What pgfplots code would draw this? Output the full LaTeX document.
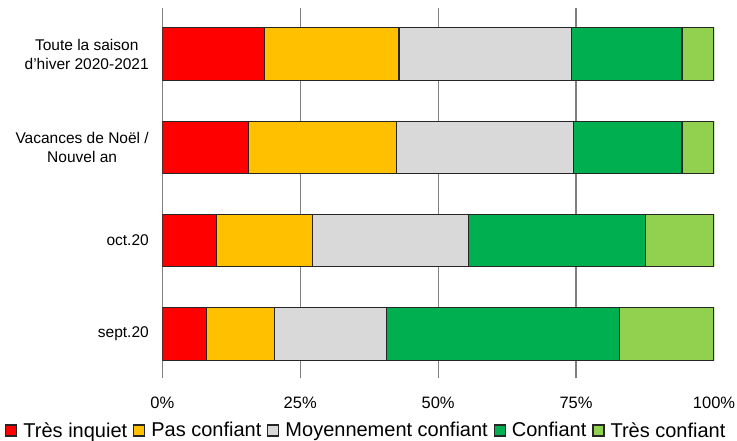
\documentclass[border=0pt]{standalone}
\usepackage{fontspec}
\setmainfont{Liberation Sans}
\usepackage{pgfplots}
\pgfplotsset{compat=1.18}

\definecolor{cRed}{HTML}{FF0000}
\definecolor{cYellow}{HTML}{FFC000}
\definecolor{cGrey}{HTML}{D9D9D9}
\definecolor{cGreen}{HTML}{00B050}
\definecolor{cLight}{HTML}{92D050}

\begin{document}
\begin{tikzpicture}
\path[use as bounding box] (0,0) rectangle (737bp,441bp);
\begin{axis}[
    at={(162.3bp,62.7bp)}, anchor=south west,
    scale only axis,
    width=551.7bp, height=370bp,
    xbar stacked,
    bar width=52.5bp,
    xmin=0, xmax=100,
    ymin=0.525, ymax=4.49,
    xtick={0,25,50,75},
    xticklabels={0\%,25\%,50\%,75\%},
    extra x ticks={100},
    extra x tick labels={100\%},
    extra x tick style={grid=none},
    xmajorgrids,
    grid style={draw=black!50, line width=1.2bp},
    ytick={1,2,3,4},
    yticklabels={sept.20, oct.20, {Vacances de Noël /\\Nouvel an}, {Toute la saison\\d'hiver 2020-2021}},
    axis line style={draw=none},
    tick style={draw=none},
    xticklabel style={font=\fontsize{16.5bp}{19bp}\selectfont, anchor=base, yshift=-30bp},
    yticklabel style={font=\fontsize{15.5bp}{19bp}\selectfont, align=center, anchor=east, xshift=-10bp},
    every axis plot/.append style={draw=black!85, line width=1.1bp},
    legend columns=5,
    legend style={at={(axis description cs:0.369,-0.141)}, anchor=center,
        draw=none, fill=none, font=\fontsize{20bp}{22bp}\selectfont,
        column sep=5bp, nodes={inner sep=1bp}},
    legend image code/.code={\draw[#1] (0bp,-5.5bp) rectangle (11bp,5.5bp);},
]
\addplot[fill=cRed] coordinates {(8.0,1) (9.9,2) (15.6,3) (18.6,4)};
\addplot[fill=cYellow] coordinates {(12.3,1) (17.4,2) (26.8,3) (24.3,4)};
\addplot[fill=cGrey] coordinates {(20.4,1) (28.2,2) (32.1,3) (31.2,4)};
\addplot[fill=cGreen] coordinates {(42.1,1) (32.1,2) (19.7,3) (20.1,4)};
\addplot[fill=cLight] coordinates {(17.2,1) (12.4,2) (5.8,3) (5.8,4)};
\legend{Très inquiet, Pas confiant, Moyennement confiant, Confiant, Très confiant}
\end{axis}
\end{tikzpicture}
\end{document}
